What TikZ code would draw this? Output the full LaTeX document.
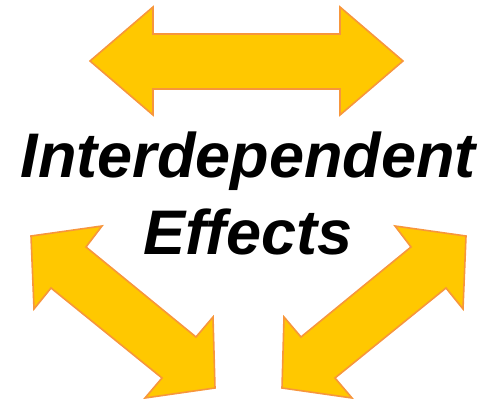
\documentclass[tikz,border=0pt]{standalone}
\usepackage{fontspec}
\setmainfont{Liberation Sans}
\definecolor{arrowgold}{HTML}{FFC800}
\definecolor{arroworange}{HTML}{F7963C}
\tikzset{
  dblarrow/.style={
    fill=arrowgold,
    draw=arroworange,
    line width=0.8pt,
    line join=miter
  },
  titletext/.style={
    font=\fontsize{31.5}{38.5}\selectfont\bfseries\itshape,
    align=center,
    inner sep=0pt
  }
}
\begin{document}
\begin{tikzpicture}[x=0.5pt,y=-0.5pt]
\useasboundingbox (0,0) rectangle (487,399);
% top arrow
\draw[dblarrow] (90,61) -- (153,7) -- (153,34) -- (340,34) -- (340,7) -- (403,61)
  -- (340,115) -- (340,89) -- (153,89) -- (153,115) -- cycle;
% lower left arrow
\draw[dblarrow] (31,236) -- (102,226) -- (86,247) -- (196,337) -- (213,317) -- (215,388)
  -- (145,398) -- (162,378) -- (51,288) -- (34,309) -- cycle;
% lower right arrow
\draw[dblarrow] (466,236) -- (395,226) -- (411,247) -- (301,337) -- (284,317) -- (282,388)
  -- (352,398) -- (335,378) -- (446,288) -- (463,309) -- cycle;
\node[titletext, anchor=base] (title) at (248,255) {Interdependent\\Effects};
\end{tikzpicture}
\end{document}
